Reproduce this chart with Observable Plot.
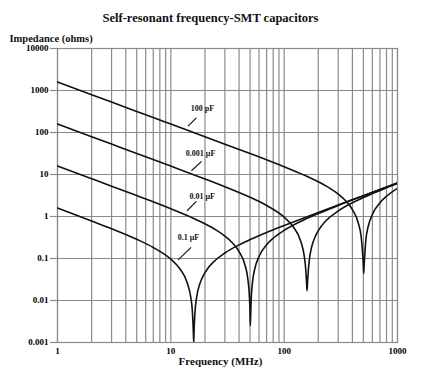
<!DOCTYPE html>
<html>
<head>
<meta charset="utf-8">
<script src="https://cdn.jsdelivr.net/npm/d3@7"></script>
<script src="https://cdn.jsdelivr.net/npm/@observablehq/plot@0.6"></script>
<style>
  html, body { margin: 0; padding: 0; background: #fff; }
</style>
</head>
<body>
<div id="chart"></div>
<script>
const title = "Self-resonant frequency-SMT capacitors";
const yLabel = "Impedance (ohms)";
const xLabel = "Frequency (MHz)";

const yTicks = [0.001, 0.01, 0.1, 1, 10, 100, 1000, 10000];
const yTickLabels = ["0.001", "0.01", "0.1", "1", "10", "100", "1000", "10000"];
const xTicks = [1, 10, 100, 1000];
const xTickLabels = ["1", "10", "100", "1000"];
const xGrid = [1,2,3,4,5,6,7,8,9,10,20,30,40,50,60,70,80,90,100,200,300,400,500,600,700,800,900,1000];

// 0.1 uF
const f_01uF = [1, 2, 3, 5, 7, 10, 12, 14, 15, 15.5, 15.8, 15.92, 16.05, 16.3, 17, 18, 20, 25, 30, 40, 50, 70, 100, 200, 500, 1000];
const z_01uF = [1.585, 0.783, 0.512, 0.287, 0.183, 0.0963, 0.0572, 0.0257, 0.0119, 0.0054, 0.0018, 0.001, 0.002, 0.0049, 0.0132, 0.0247, 0.0461, 0.0934, 0.1354, 0.2115, 0.282, 0.417, 0.612, 1.249, 3.138, 6.281];
// 0.01 uF
const f_001uF = [1, 2, 3, 5, 7, 10, 15, 20, 25, 30, 35, 40, 45, 48, 49.5, 49.8, 50.3, 50.8, 51, 52.5, 55, 60, 70, 80, 100, 150, 200, 300, 500, 1000];
const z_001uF = [15.91, 7.945, 5.286, 3.152, 2.230, 1.529, 0.967, 0.670, 0.480, 0.342, 0.2348, 0.1466, 0.0709, 0.0300, 0.0108, 0.0071, 0.0025, 0.0064, 0.0088, 0.0267, 0.0562, 0.1117, 0.2125, 0.3037, 0.469, 0.836, 1.177, 1.832, 3.110, 6.267];
// 0.001 uF
const f_0001uF = [1, 2, 3, 5, 7, 10, 20, 30, 50, 70, 100, 120, 140, 150, 155, 157, 159.2, 161, 163, 167, 175, 190, 220, 300, 500, 700, 1000];
const z_0001uF = [159.1, 79.57, 53.03, 31.80, 22.69, 15.85, 7.832, 5.117, 2.869, 1.834, 0.963, 0.572, 0.257, 0.1185, 0.0556, 0.032, 0.017, 0.029, 0.0478, 0.0963, 0.190, 0.356, 0.659, 1.354, 2.823, 4.171, 6.124];
// 100 pF
const f_100pF = [1, 2, 3, 5, 7, 10, 20, 30, 50, 70, 100, 150, 200, 250, 300, 350, 400, 450, 480, 495, 498, 503, 507, 510, 525, 550, 600, 700, 800, 1000];
const z_100pF = [1591, 795.7, 530.5, 318.3, 227.3, 159.1, 79.45, 52.86, 31.52, 22.30, 15.29, 9.668, 6.700, 4.795, 3.420, 2.348, 1.4655, 0.709, 0.300, 0.105, 0.080, 0.044, 0.064, 0.0838, 0.267, 0.562, 1.117, 2.125, 3.037, 4.692];

const capNames = ["100 pF", "0.001 µF", "0.01 µF", "0.1 µF"];
const labelFreq = [19.0, 18.3, 18.9, 14.3];
const labelZ = [378, 31.9, 3.0, 0.315];
const leadF1 = [14.2, 15.2, 13.9, 11.6];
const leadZ1 = [141, 12.3, 1.37, 0.0927];
const leadF2 = [16.8, 18.7, 16.8, 15.1];
const leadZ2 = [222, 20.5, 2.28, 0.185];

const series = [
  [capNames[0], f_100pF, z_100pF],
  [capNames[1], f_0001uF, z_0001uF],
  [capNames[2], f_001uF, z_001uF],
  [capNames[3], f_01uF, z_01uF]
];
const data = series.flatMap(([cap, fs, zs]) => fs.map((f, i) => ({cap, f, z: zs[i]})));

const gridColor = "#8a8a8a";

const chart = Plot.plot({
  width: 430,
  height: 377,
  marginTop: 48,
  marginBottom: 35,
  marginLeft: 57,
  marginRight: 33,
  style: {fontFamily: "'Liberation Serif', 'DejaVu Serif', serif", fontWeight: "bold", fontSize: "9px", background: "#fff"},
  x: {type: "log", domain: [1, 1000]},
  y: {type: "log", domain: [0.001, 10000]},
  marks: [
    Plot.ruleX(xGrid, {stroke: gridColor, strokeWidth: 1.2}),
    Plot.ruleY(yTicks, {stroke: gridColor, strokeWidth: 1.2}),
    Plot.frame({stroke: gridColor, strokeWidth: 1.2}),
    Plot.axisY({ticks: yTicks, tickFormat: d => yTickLabels[yTicks.indexOf(d)], tickSize: 7, tickPadding: 2, stroke: gridColor, strokeWidth: 1.2, label: null, fontSize: 9}),
    Plot.axisX({ticks: xTicks, tickFormat: d => xTickLabels[xTicks.indexOf(d)], tickSize: 0, tickPadding: 5, label: null, fontSize: 9}),
    Plot.line(data, {x: "f", y: "z", z: "cap", curve: "monotone-x", stroke: "#111", strokeWidth: 1.6, clip: true}),
    Plot.link(capNames, {x1: leadF1, y1: leadZ1, x2: leadF2, y2: leadZ2, stroke: "#111", strokeWidth: 1.1}),
    Plot.text(capNames, {x: labelFreq, y: labelZ, fontSize: 8, fill: "#111"}),
    Plot.text([title], {frameAnchor: "top", dx: -17, dy: -35, fontSize: 12.5, fill: "#111"}),
    Plot.text([yLabel], {frameAnchor: "top-left", textAnchor: "start", dx: -48, dy: -14, fontSize: 10.5, fill: "#111"}),
    Plot.text([xLabel], {frameAnchor: "bottom", dx: -7, dy: 22, fontSize: 11, fill: "#111"})
  ]
});
document.getElementById("chart").append(chart);
</script>
</body>
</html>
